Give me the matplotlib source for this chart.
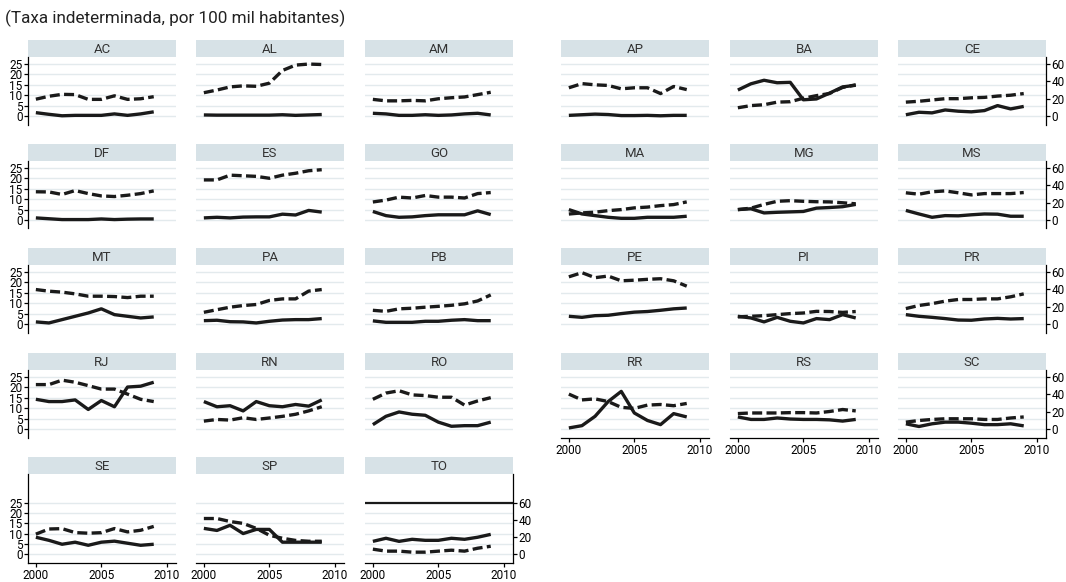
import numpy as np
import matplotlib.pyplot as plt

plt.rcParams['font.family'] = ['Roboto', 'DejaVu Sans']

anos = list(range(2000, 2010))
ufs = ['AC', 'AL', 'AM', 'AP', 'BA', 'CE',
       'DF', 'ES', 'GO', 'MA', 'MG', 'MS',
       'MT', 'PA', 'PB', 'PE', 'PI', 'PR',
       'RJ', 'RN', 'RO', 'RR', 'RS', 'SC',
       'SE', 'SP', 'TO']

# taxa de mortes por causa indeterminada (eixo esquerdo, 0-25)
indet = [
    [1.6, 0.8, 0.1, 0.3, 0.3, 0.3, 1.0, 0.3, 1.0, 2.0],    # AC
    [0.5, 0.4, 0.4, 0.4, 0.4, 0.4, 0.6, 0.3, 0.5, 0.7],    # AL
    [1.3, 1.0, 0.3, 0.3, 0.6, 0.3, 0.5, 1.0, 1.3, 0.5],    # AM
    [0.3, 0.6, 0.9, 0.7, 0.2, 0.2, 0.3, 0.1, 0.3, 0.3],    # AP
    [12.5, 15.5, 17.2, 16.0, 16.2, 7.8, 8.2, 11.0, 14.0, 14.8],  # BA
    [0.6, 1.8, 1.5, 2.9, 2.3, 2.0, 2.6, 5.0, 3.4, 4.6],    # CE
    [1.0, 0.6, 0.2, 0.2, 0.2, 0.5, 0.2, 0.4, 0.5, 0.5],    # DF
    [1.0, 1.3, 1.0, 1.4, 1.5, 1.5, 2.8, 2.4, 4.6, 3.8],    # ES
    [4.1, 2.1, 1.3, 1.5, 2.1, 2.5, 2.5, 2.5, 4.4, 2.6],    # GO
    [5.0, 2.9, 2.1, 1.3, 0.8, 0.8, 1.3, 1.3, 1.3, 1.8],    # MA
    [5.0, 5.4, 3.4, 3.7, 3.9, 4.1, 5.7, 6.0, 6.4, 7.5],    # MG
    [4.6, 2.9, 1.3, 2.1, 2.0, 2.5, 2.9, 2.8, 1.8, 1.8],    # MS
    [1.0, 0.5, 2.1, 3.7, 5.3, 7.3, 4.5, 3.7, 2.9, 3.4],    # MT
    [1.6, 1.8, 1.1, 1.0, 0.5, 1.3, 1.9, 2.1, 2.1, 2.6],    # PA
    [1.5, 0.8, 0.8, 0.8, 1.3, 1.3, 1.8, 2.1, 1.6, 1.6],    # PB
    [3.7, 3.2, 4.0, 4.2, 5.0, 5.7, 6.0, 6.6, 7.3, 7.7],    # PE
    [3.7, 2.9, 1.0, 3.2, 1.3, 0.5, 2.6, 2.1, 4.5, 2.9],    # PI
    [4.5, 3.7, 3.2, 2.6, 1.9, 1.8, 2.4, 2.7, 2.4, 2.6],    # PR
    [14.3, 13.2, 13.2, 14.0, 9.4, 13.7, 10.7, 20.2, 20.6, 22.5],  # RJ
    [13.2, 10.7, 11.2, 8.7, 13.2, 11.2, 10.7, 11.8, 11.0, 14.0],  # RN
    [2.1, 6.1, 8.2, 7.1, 6.6, 3.3, 1.3, 1.6, 1.6, 3.3],    # RO
    [0.5, 1.6, 6.1, 13.2, 18.1, 7.7, 4.1, 2.1, 7.4, 5.8],  # RR
    [5.8, 4.6, 4.6, 5.3, 4.8, 4.6, 4.6, 4.4, 3.8, 4.6],    # RS
    [2.5, 1.2, 2.5, 3.3, 3.3, 2.8, 2.1, 2.1, 2.5, 1.5],    # SC
    [8.2, 6.7, 4.8, 5.8, 4.3, 5.8, 6.3, 5.3, 4.3, 4.8],    # SE
    [12.5, 11.5, 14.0, 10.0, 12.0, 12.0, 5.8, 5.8, 5.8, 5.8],  # SP
    [6.2, 7.7, 6.2, 7.2, 6.7, 6.7, 7.7, 7.2, 8.2, 9.6],    # TO
]

# taxa de homicidios (eixo direito, 0-60)
homic = [
    [19.4, 22.8, 25.0, 24.7, 19.2, 19.2, 23.3, 19.2, 19.9, 22.3],  # AC
    [26.9, 30.0, 33.6, 34.8, 34.3, 37.9, 52.6, 58.8, 60.0, 59.5],  # AL
    [19.2, 17.5, 17.5, 18.0, 17.5, 19.9, 21.1, 22.0, 24.7, 27.4],  # AM
    [32.6, 37.4, 36.0, 35.3, 31.4, 32.6, 32.6, 25.9, 34.1, 30.5],  # AP
    [9.5, 12.0, 13.0, 16.0, 16.5, 20.5, 23.5, 26.0, 33.0, 36.0],   # BA
    [16.0, 17.0, 18.5, 20.0, 20.0, 21.0, 21.5, 23.0, 24.0, 25.9],  # CE
    [32.6, 32.4, 29.5, 34.0, 30.5, 27.8, 27.1, 28.6, 30.5, 33.6],  # DF
    [46.3, 46.3, 51.8, 51.1, 50.4, 48.2, 51.8, 54.0, 56.9, 58.1],  # ES
    [20.8, 23.0, 26.4, 25.4, 28.3, 26.4, 26.4, 25.4, 30.5, 31.7],  # GO
    [6.9, 8.2, 9.0, 10.8, 12.0, 14.0, 14.9, 16.6, 17.8, 20.9],     # MA
    [12.0, 13.7, 18.0, 21.6, 22.3, 21.6, 21.1, 20.9, 19.9, 18.7],  # MG
    [31.4, 29.8, 32.6, 33.6, 31.4, 29.0, 30.5, 30.5, 30.5, 31.7],  # MS
    [39.8, 37.9, 36.8, 34.8, 32.1, 32.1, 31.7, 30.5, 32.1, 32.1],  # MT
    [13.5, 16.5, 19.4, 21.3, 22.5, 27.2, 29.0, 29.0, 38.0, 39.8],  # PA
    [15.8, 14.6, 17.5, 18.2, 19.4, 20.4, 21.6, 23.3, 26.6, 33.6],  # PB
    [54.5, 59.3, 53.5, 55.4, 49.9, 50.6, 51.6, 52.3, 49.9, 43.7],  # PE
    [8.2, 8.9, 9.6, 10.8, 12.0, 12.7, 14.6, 14.4, 13.4, 14.4],     # PI
    [17.8, 21.4, 23.5, 26.4, 28.3, 28.3, 29.0, 29.0, 31.4, 34.8],  # PR
    [51.3, 51.3, 56.4, 54.0, 50.1, 46.1, 46.1, 40.3, 34.3, 31.7],  # RJ
    [9.1, 11.0, 10.3, 13.0, 11.0, 12.7, 14.6, 17.0, 20.9, 25.7],   # RN
    [34.3, 41.5, 44.2, 39.4, 38.6, 36.7, 36.7, 27.6, 32.4, 36.2],  # RO
    [40.3, 33.6, 34.8, 31.7, 25.0, 23.8, 27.6, 28.3, 26.9, 29.5],  # RR
    [17.8, 18.5, 18.5, 18.5, 18.9, 18.9, 18.5, 20.2, 22.5, 20.9],  # RS
    [7.9, 9.8, 11.0, 11.8, 11.8, 11.8, 11.0, 11.0, 12.7, 13.9],    # SC
    [23.3, 29.3, 29.7, 25.1, 24.4, 25.0, 29.8, 25.9, 27.8, 32.3],  # SE
    [41.5, 41.5, 38.0, 35.8, 30.0, 22.0, 18.5, 16.0, 15.0, 15.0],  # SP
    [5.8, 3.5, 3.5, 2.3, 2.3, 3.5, 4.6, 3.5, 6.9, 9.2],            # TO
]

W, H = 1066, 582
fig = plt.figure(figsize=(W / 100, H / 100), dpi=100)

col_x = [28, 196, 365, 561, 730, 898]
row_top = [40, 144, 248, 353, 457]
pw = 148
strip_h = 17
k = 2.4   # 60 no eixo direito = 25 no eixo esquerdo

grid_c = '#e3eaed'
strip_c = '#d7e2e7'
line_c = '#1a1a1a'

fig.text(5 / W, 1 - 18 / H, '(Taxa indeterminada, por 100 mil habitantes)',
         fontsize=12.3, va='center', ha='left', color='#222222')

for i, uf in enumerate(ufs):
    r, c = divmod(i, 6)
    x0 = col_x[c]
    top = row_top[r]
    if r == 4:
        plot_h = 89
        ylim = (-4.3, 38.9)
    else:
        plot_h = 67.5
        ylim = (-4.1, 28.4)

    sax = fig.add_axes([x0 / W, 1 - (top + strip_h) / H, pw / W, strip_h / H])
    sax.set_facecolor(strip_c)
    sax.set_xticks([])
    sax.set_yticks([])
    for s in sax.spines.values():
        s.set_visible(False)
    sax.text(0.5, 0.45, uf, ha='center', va='center', fontsize=9.5,
             color='#333333', transform=sax.transAxes)

    ax = fig.add_axes([x0 / W, 1 - (top + strip_h + plot_h) / H, pw / W, plot_h / H])
    ax.set_xlim(1999.4, 2010.7)
    ax.set_ylim(*ylim)
    ax.set_yticks(range(0, 30, 5))
    ax.grid(axis='y', color=grid_c, lw=1)
    ax.set_axisbelow(True)
    for s in ax.spines.values():
        s.set_visible(False)
    ax.plot(anos, indet[i], color=line_c, lw=2.4, solid_capstyle='butt', zorder=3)

    if c == 0:
        ax.spines['left'].set_visible(True)
        ax.spines['left'].set_linewidth(0.9)
        ax.tick_params(axis='y', length=3, width=0.9, labelsize=8.5, pad=1)
    else:
        ax.tick_params(axis='y', length=0, labelleft=False)

    if i >= 21:
        ax.spines['bottom'].set_visible(True)
        ax.spines['bottom'].set_linewidth(0.9)
        ax.set_xticks([2000, 2005, 2010])
        ax.tick_params(axis='x', length=3, width=0.9, labelsize=8.5, pad=1.5)
    else:
        ax.set_xticks([])

    ax2 = ax.twinx()
    ax2.set_ylim(ylim[0] * k, ylim[1] * k)
    ax2.set_yticks([0, 20, 40, 60])
    for s in ax2.spines.values():
        s.set_visible(False)
    ax2.plot(anos, homic[i], color=line_c, lw=2.4, ls=(0, (3.0, 1.3)), zorder=3)
    if c == 5 or i == 26:
        ax2.spines['right'].set_visible(True)
        ax2.spines['right'].set_linewidth(0.9)
        ax2.tick_params(axis='y', length=3, width=0.9, labelsize=8.5, pad=1)
    else:
        ax2.tick_params(axis='y', length=0, labelright=False)
    if i == 26:
        ax.axhline(25, color=line_c, lw=1.6, zorder=2)

fig.savefig('out.png', dpi=100)
